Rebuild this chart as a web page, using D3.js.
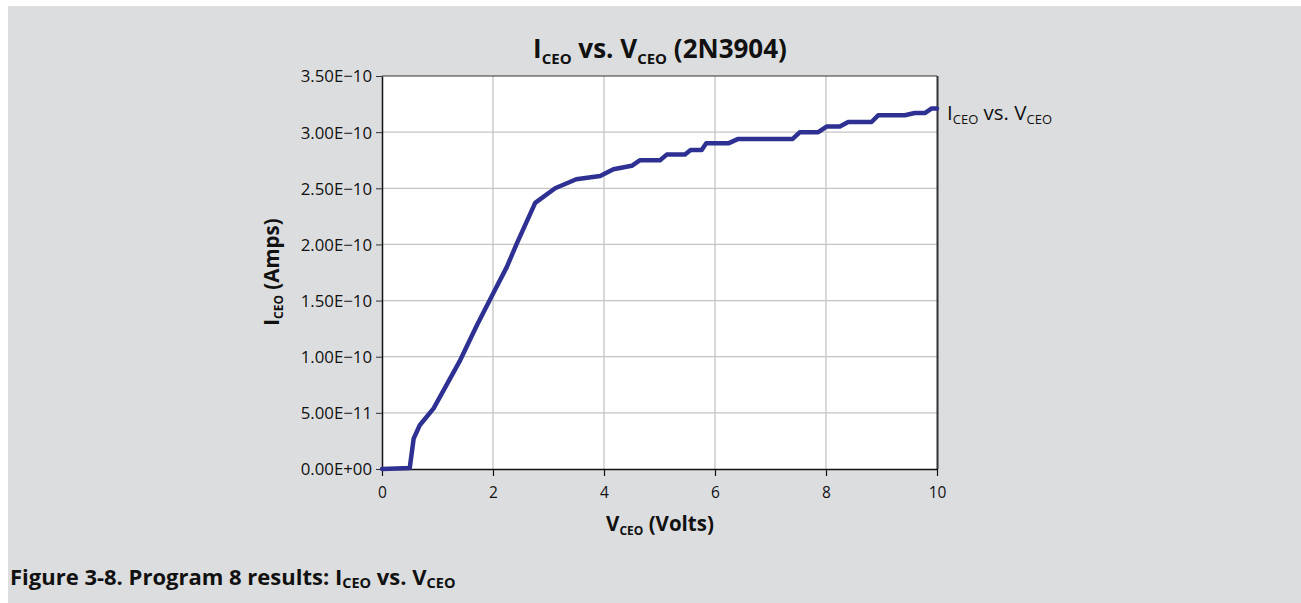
<!DOCTYPE html>
<html><head><meta charset="utf-8">
<script src="https://cdn.jsdelivr.net/npm/d3@7"></script>
<style>
body{margin:0;background:#fff;}
text{font-family:"Open Sans","Noto Sans",sans-serif;fill:#111;}
</style></head>
<body><svg id="c" width="1301" height="603"></svg>
<script>
const voltage = [0,0.5,0.57,0.68,0.93,1.41,1.71,2.0,2.25,2.43,2.76,3.12,3.5,3.93,4.17,4.5,4.65,5.01,5.13,5.46,5.56,5.76,5.84,6.24,6.42,7.4,7.53,7.86,8.01,8.25,8.4,8.82,8.94,9.42,9.6,9.78,9.9,10];
const current = [0,0.01,0.27,0.39,0.54,0.97,1.28,1.56,1.80,2.01,2.37,2.50,2.58,2.61,2.67,2.70,2.75,2.75,2.80,2.80,2.84,2.84,2.90,2.90,2.94,2.94,3.00,3.00,3.05,3.05,3.09,3.09,3.15,3.15,3.17,3.17,3.21,3.21].map(v=>v*1e-10);
const yTicks = [0,0.5e-10,1e-10,1.5e-10,2e-10,2.5e-10,3e-10,3.5e-10];
const yTickLabels = ["0.00E+00","5.00E\u221211","1.00E\u221210","1.50E\u221210","2.00E\u221210","2.50E\u221210","3.00E\u221210","3.50E\u221210"];
const xTicks = [0,2,4,6,8,10];

const svg = d3.select("#c");
svg.append("rect").attr("x",8).attr("y",6).attr("width",1293).attr("height",597).attr("fill","#dcdddf");

const L=382,R=937,T=76,B=469;
const x = d3.scaleLinear().domain([0,10]).range([L,R]);
const y = d3.scaleLinear().domain([0,3.5e-10]).range([B,T]);

svg.append("rect").attr("x",L).attr("y",T).attr("width",R-L).attr("height",B-T).attr("fill","#fff");

// grid
svg.append("g").selectAll("line").data(xTicks.slice(1,-1)).join("line")
  .attr("x1",d=>x(d)).attr("x2",d=>x(d)).attr("y1",T).attr("y2",B)
  .attr("stroke","#c4c4c4").attr("stroke-width",1.3);
svg.append("g").selectAll("line").data(yTicks.slice(1,-1)).join("line")
  .attr("x1",L).attr("x2",R).attr("y1",d=>y(d)).attr("y2",d=>y(d))
  .attr("stroke","#c4c4c4").attr("stroke-width",1.3);
// frame top & right
svg.append("line").attr("x1",L).attr("x2",R).attr("y1",T).attr("y2",T).attr("stroke","#333").attr("stroke-width",1.2);
svg.append("line").attr("x1",R+0.5).attr("x2",R+0.5).attr("y1",T).attr("y2",B).attr("stroke","#333").attr("stroke-width",2);

// axes
const yAxis = d3.axisLeft(y).tickValues(yTicks).tickFormat((d,i)=>yTickLabels[i]).tickSize(6).tickSizeOuter(0).tickPadding(4);
const gy = svg.append("g").attr("transform",`translate(${L},0)`).call(yAxis);
gy.selectAll("text").style("font-size","16.8px").attr("dy","0.35em");
gy.select(".domain").attr("stroke","#111").attr("stroke-width",1.5);
gy.selectAll(".tick line").attr("stroke","#333");

const xAxis = d3.axisBottom(x).tickValues(xTicks).tickSize(7).tickSizeOuter(0).tickPadding(11);
const gx = svg.append("g").attr("transform",`translate(0,${B})`).call(xAxis);
gx.selectAll("text").style("font-size","15.5px");
gx.select(".domain").attr("stroke","#111").attr("stroke-width",1.5);
gx.selectAll(".tick line").attr("stroke","#111").attr("stroke-width",1.2);

// line
const line = d3.line().x((d,i)=>x(voltage[i])).y(d=>y(d));
svg.append("path").datum(current).attr("d",line).attr("fill","none")
  .attr("stroke","#2e3192").attr("stroke-width",4.5).attr("stroke-linejoin","round").attr("stroke-linecap","round");

// title
const title = svg.append("text").attr("x",660).attr("y",58).attr("text-anchor","middle")
  .style("font-size","26px").style("font-weight","bold");
title.append("tspan").text("I");
title.append("tspan").text("CEO").style("font-size","15px").attr("dy",6);
title.append("tspan").text(" vs. V").attr("dy",-6);
title.append("tspan").text("CEO").style("font-size","15px").attr("dy",6);
title.append("tspan").text(" (2N3904)").attr("dy",-6);

// x axis title
const xt = svg.append("text").attr("x",660).attr("y",531).attr("text-anchor","middle")
  .style("font-size","20.5px").style("font-weight","bold");
xt.append("tspan").text("V");
xt.append("tspan").text("CEO").style("font-size","12px").attr("dy",4);
xt.append("tspan").text(" (Volts)").attr("dy",-4);

// y axis title
const yt = svg.append("text").attr("transform","translate(279,272) rotate(-90)").attr("text-anchor","middle")
  .style("font-size","20.5px").style("font-weight","bold");
yt.append("tspan").text("I");
yt.append("tspan").text("CEO").style("font-size","12px").attr("dy",4);
yt.append("tspan").text(" (Amps)").attr("dy",-4);

// series label
const sl = svg.append("text").attr("x",947).attr("y",120).style("font-size","20.5px");
sl.append("tspan").text("I");
sl.append("tspan").text("CEO").style("font-size","13px").attr("dy",4);
sl.append("tspan").text(" vs. V").attr("dy",-4);
sl.append("tspan").text("CEO").style("font-size","13px").attr("dy",4);

// caption
const cap = svg.append("text").attr("x",10).attr("y",585).style("font-size","22px").style("font-weight","bold");
cap.append("tspan").text("Figure 3-8. Program 8 results: I");
cap.append("tspan").text("CEO").style("font-size","14.5px").attr("dy",3);
cap.append("tspan").text(" vs. V").attr("dy",-3);
cap.append("tspan").text("CEO").style("font-size","14.5px").attr("dy",3);
</script></body></html>
